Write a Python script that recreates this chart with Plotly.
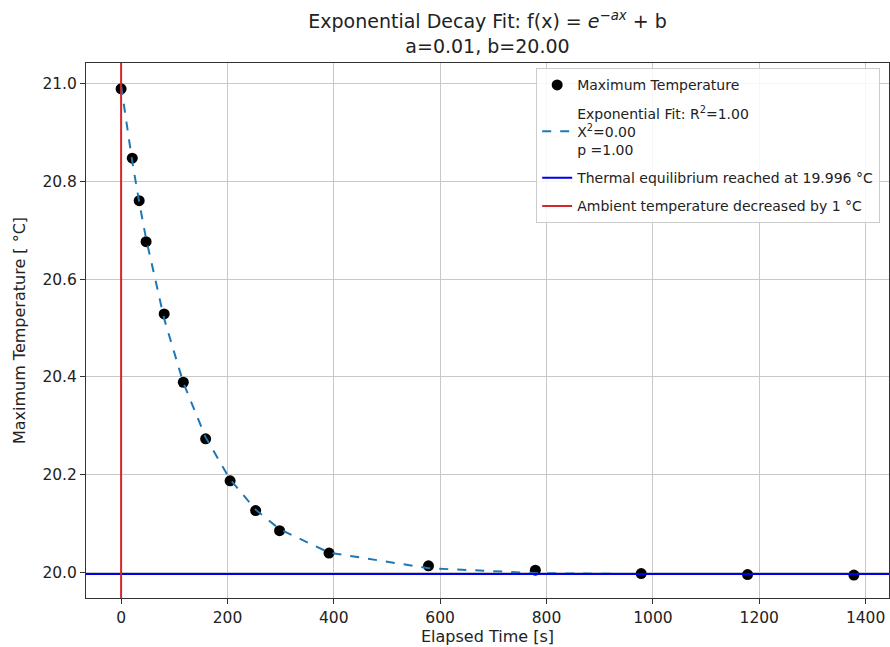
import plotly.graph_objects as go

elapsed_s = [0, 21, 34, 47, 81, 117, 159, 205, 253, 298, 391, 578, 779, 978, 1178, 1378]
max_temp = [20.990, 20.848, 20.761, 20.677, 20.529, 20.389, 20.273, 20.187, 20.126,
            20.085, 20.039, 20.013, 20.004, 19.997, 19.995, 19.994]
# fitted curve evaluated at the same times
fit_temp = [20.996, 20.841, 20.758, 20.683, 20.519, 20.388, 20.276, 20.190, 20.128,
            20.088, 20.040, 20.008, 19.998, 19.996, 19.996, 19.996]

equilibrium_temp = 19.996
ambient_change_time = 0

x_range = [-66, 1444]
y_range = [19.947, 21.043]
x_ticks = [0, 200, 400, 600, 800, 1000, 1200, 1400]
y_ticks = [20.0, 20.2, 20.4, 20.6, 20.8, 21.0]

font = "DejaVu Sans"

fig = go.Figure()

fig.add_trace(go.Scatter(
    x=elapsed_s, y=max_temp, mode="markers",
    marker=dict(color="black", size=11),
    name="Maximum Temperature", legendgroup="a",
))

fig.add_trace(go.Scatter(
    x=elapsed_s, y=fit_temp, mode="lines",
    line=dict(color="#1f77b4", dash="dash", width=2),
    name="Exponential Fit: R<sup>2</sup>=1.00<br>X<sup>2</sup>=0.00<br>p =1.00",
    legendgroup="b",
))

fig.add_trace(go.Scatter(
    x=x_range, y=[equilibrium_temp, equilibrium_temp], mode="lines",
    line=dict(color="#0000ee", width=2),
    name=f"Thermal equilibrium reached at {equilibrium_temp} °C", legendgroup="c",
))

fig.add_trace(go.Scatter(
    x=[ambient_change_time, ambient_change_time], y=y_range, mode="lines",
    line=dict(color="#d62728", width=2),
    name="Ambient temperature decreased by 1 °C", legendgroup="d",
))

axis_style = dict(
    showgrid=True, gridcolor="#c8c8c8", gridwidth=1,
    showline=True, linecolor="#333333", linewidth=1, mirror=True,
    ticks="outside", ticklen=5, tickcolor="#333333",
    zeroline=False, automargin=False,
    tickfont=dict(family=font, size=15.5, color="#222222"),
)

fig.update_xaxes(range=x_range, tickvals=x_ticks,
                 title=dict(text="Elapsed Time [s]", font=dict(family=font, size=16, color="#222222"), standoff=4),
                 **axis_style)
fig.update_yaxes(range=y_range, tickvals=y_ticks, tickformat=".1f",
                 title=dict(text="Maximum Temperature [ °C]", font=dict(family=font, size=16, color="#222222"), standoff=12),
                 **axis_style)

fig.update_layout(
    width=890, height=647,
    margin=dict(l=86, r=1, t=63, b=49),
    paper_bgcolor="white", plot_bgcolor="white",
    font=dict(family=font, color="#222222"),
    title=dict(
        text="Exponential Decay Fit: f(x) = <i>e</i><sup><i>−ax</i></sup> + b<br>a=0.01, b=20.00",
        x=0.5, xanchor="center", xref="paper", y=0.957, yanchor="middle", yref="container",
        font=dict(family=font, size=19, color="#222222"), automargin=False,
    ),
    legend=dict(
        x=0.989, xanchor="right", y=0.99, yanchor="top",
        bgcolor="rgba(255,255,255,0.85)", bordercolor="#cccccc", borderwidth=1,
        font=dict(family=font, size=14, color="#222222"),
        tracegroupgap=7,
    ),
    showlegend=True,
)

fig.write_html("out.html", post_script="document.body.style.margin='0';",
               config={"displayModeBar": False})
